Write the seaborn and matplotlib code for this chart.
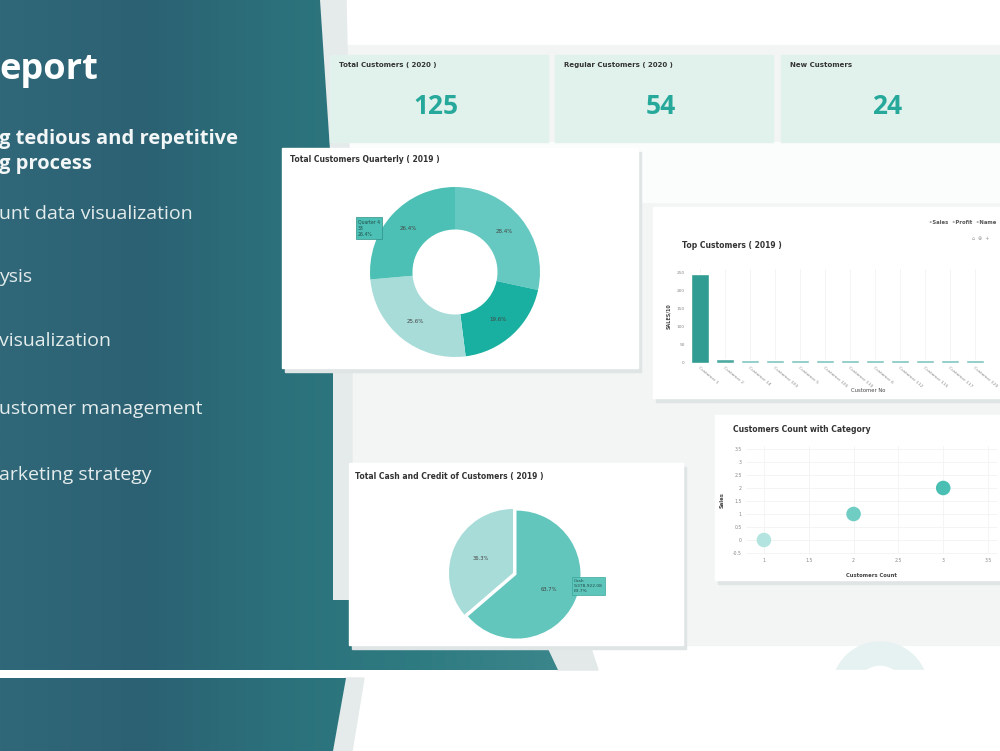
import numpy as np
import matplotlib
matplotlib.use("Agg")
import matplotlib.pyplot as plt
from matplotlib.patches import Rectangle, Polygon, Wedge
from matplotlib.colors import LinearSegmentedColormap
import seaborn as sns

W, H = 1000, 751

# slide text
slide_title = "eport"
slide_subtitle = ["g tedious and repetitive", "g process"]
slide_bullets = ["unt data visualization", "ysis", "visualization",
                 "ustomer management", "arketing strategy"]

# KPI cards
kpi_titles = ["Total Customers ( 2020 )", "Regular Customers ( 2020 )", "New Customers"]
kpi_values = [125, 54, 24]

# donut : customers per quarter
quarters = ["Quarter 1", "Quarter 2", "Quarter 3", "Quarter 4"]
quarter_counts = [35.5, 24.5, 32, 33]
quarter_colors = ["#66c9c1", "#19b0a1", "#a8dcd9", "#4dc0b5"]

# bars : top customers
customer_names = ["Customer 1", "Customer 2", "Customer 14", "Customer 103", "Customer 5",
                  "Customer 106", "Customer 110", "Customer 6", "Customer 112", "Customer 115",
                  "Customer 117", "Customer 120"]
customer_sales = [248, 10, 8, 8, 8, 8, 8, 8, 7.5, 7.5, 7.5, 7.5]
bar_colors = ["#1fae9f", "#3db8ad"] + ["#72d0c7"] * 10

# scatter : customers count with category
category_count = [1, 2, 3]
category_sales = [0, 1, 2]
category_colors = ["#b4e4df", "#6fcdc4", "#4bbfb3"]

# pie : cash and credit
payment_types = ["Cash", "Credit"]
payment_amount = [63.7, 36.3]
payment_colors = ["#62c6bd", "#a8dcd9"]


def rect(x0, y0, x1, y1):
    return [x0 / W, 1 - y1 / H, (x1 - x0) / W, (y1 - y0) / H]


sns.set_style("white")
plt.rcParams['font.family'] = ['DejaVu Sans']

fig = plt.figure(figsize=(10, 7.51), dpi=100, facecolor="white")
bg = fig.add_axes([0, 0, 1, 1])
bg.set_xlim(0, W)
bg.set_ylim(H, 0)
bg.axis("off")

# light panel behind the dashboard
bg.add_patch(Rectangle((330, 45), 670, 600, color="#f3f5f5", zorder=0))
bg.add_patch(Rectangle((330, 142), 670, 60, color="#fbfcfc", zorder=0))

# ring decoration (top half only)
bg.add_patch(Wedge((880, 690), 48, 180, 360, width=23, color="#e6f2f1", zorder=0.5))
bg.add_patch(Rectangle((365, 670), 635, 81, color="white", zorder=0.8))

# grey strips next to the teal shapes
bg.add_patch(Polygon([(320, 0), (346, 0), (352, 300), (352, 600), (333, 600)], color="#e5eaea", zorder=1))
bg.add_patch(Polygon([(525, 600), (575, 600), (598, 670), (558, 670)], color="#e3e8e8", zorder=1))
bg.add_patch(Polygon([(346, 678), (364, 678), (352, 751), (333, 751)], color="#e5eaea", zorder=1))

# teal gradient shapes
teal = LinearSegmentedColormap.from_list("teal", ["#306879", "#2c6173", "#2b717b", "#2f7b82", "#3a868b"])
grad = np.linspace(0, 1, 256).reshape(1, -1)
for pts in ([(0, 0), (320, 0), (330, 150), (333, 320), (333, 600), (525, 600), (558, 670), (0, 670)],
            [(0, 678), (346, 678), (333, 751), (0, 751)]):
    shape = Polygon(pts, closed=True, facecolor="none", edgecolor="none")
    bg.add_patch(shape)
    im = bg.imshow(grad, cmap=teal, extent=(0, 560, 751, 0), aspect="auto", zorder=2)
    im.set_clip_path(shape)
bg.set_xlim(0, W)
bg.set_ylim(H, 0)

# slide text
bg.text(-1, 70, slide_title, color="white", fontsize=26, fontweight="bold",
        family="Open Sans", va="center", ha="left", zorder=5)
for i, line in enumerate(slide_subtitle):
    bg.text(-1, 139 + i * 25, line, color="#f2f6f6", fontsize=14.5, fontweight="bold",
            family="Open Sans", va="center", ha="left", zorder=5)
for y, line in zip([214, 277, 341, 409, 475], slide_bullets):
    bg.text(-1, y, line, color="#e4ecec", fontsize=14, family="Open Sans",
            va="center", ha="left", zorder=5)

# cards
cards = [(282, 148, 638, 368), (653, 207, 1000, 398), (715, 415, 1000, 580), (349, 463, 683, 645)]
for x0, y0, x1, y1 in cards:
    bg.add_patch(Rectangle((x0 + 3, y0 + 4), x1 - x0, y1 - y0, color="#dfe4e4", zorder=6))
    bg.add_patch(Rectangle((x0, y0), x1 - x0, y1 - y0, color="white", zorder=7))

# KPI cards
kpi_boxes = [(330, 55, 548, 142), (555, 55, 773, 142), (781, 55, 1000, 142)]
for (x0, y0, x1, y1), title, val in zip(kpi_boxes, kpi_titles, kpi_values):
    bg.add_patch(Rectangle((x0, y0), x1 - x0, y1 - y0, color="#e1f2ed", zorder=7))
    bg.text(x0 + 9, y0 + 10, title, fontsize=5, fontweight="bold", color="#333333", va="center", zorder=8)
    bg.text((x0 + x1) / 2 - 3, 106, str(val), fontsize=19, fontweight="bold", family="Open Sans",
            color="#26a99b", ha="center", va="center", zorder=8)

# card titles
bg.text(290, 160, "Total Customers Quarterly ( 2019 )", fontsize=5.5, fontweight="bold", color="#333333", va="center", zorder=8)
bg.text(682, 246, "Top Customers ( 2019 )", fontsize=5.5, fontweight="bold", color="#333333", va="center", zorder=8)
bg.text(733, 430, "Customers Count with Category", fontsize=5.5, fontweight="bold", color="#333333", va="center", zorder=8)
bg.text(355, 476, "Total Cash and Credit of Customers ( 2019 )", fontsize=5.5, fontweight="bold", color="#333333", va="center", zorder=8)
bg.text(996, 222, "◦Sales  ◦Profit  ◦Name", fontsize=3.8, fontweight="bold", color="#555555",
        ha="right", va="center", zorder=8)
bg.text(972, 238, "⌂  ⊕  +", fontsize=3.5, color="#999999", va="center", zorder=8)

# donut chart
ax1 = fig.add_axes(rect(370, 187, 540, 357))
ax1.pie(quarter_counts, colors=quarter_colors, startangle=90, counterclock=False,
        wedgeprops=dict(width=0.5, linewidth=0), autopct="%1.1f%%", pctdistance=0.75,
        textprops=dict(fontsize=4, color="#444444"))
ax1.set_xlim(-1, 1)
ax1.set_ylim(-1, 1)
ax1.text(358, 228, "Quarter 4\n33\n26.4%", transform=bg.transData, clip_on=False,
         fontsize=3.3, color="#1e4d4a", va="center", ha="left", linespacing=1.3, zorder=9,
         bbox=dict(boxstyle="square,pad=0.4", facecolor="#4dc0b5", edgecolor="#2f8f86", linewidth=0.5))

# bar chart
ax2 = fig.add_axes(rect(687.5, 269.4, 1012.5, 363))
ax2.set_facecolor("none")
sns.barplot(x=customer_names, y=customer_sales, hue=customer_names, palette=bar_colors,
            legend=False, width=0.75, ax=ax2)
ax2.set_xlim(-0.5, len(customer_names) + 0.5)
ax2.set_ylim(0, 260)
ax2.set_yticks([0, 50, 100, 150, 200, 250])
ax2.grid(axis="x", color="#f2f2f2", linewidth=0.6)
ax2.set_axisbelow(True)
sns.despine(ax=ax2, left=True, bottom=True)
ax2.tick_params(axis="both", labelsize=3.1, colors="#888888", length=0, pad=2)
plt.setp(ax2.get_xticklabels(), rotation=-40, ha="left", rotation_mode="anchor")
ax2.set_ylabel("SALES/10", fontsize=3.5, fontweight="bold", color="#444444", labelpad=4)
ax2.set_xlabel("")
bg.text(868, 390, "Customer No", fontsize=3.8, color="#444444", ha="center", va="center", zorder=8)

# scatter chart
ax3 = fig.add_axes(rect(746, 446.4, 997, 554.3))
ax3.set_facecolor("none")
sns.scatterplot(x=category_count, y=category_sales, hue=category_count, palette=category_colors,
                s=110, linewidth=0, legend=False, ax=ax3)
ax3.set_xlim(0.8, 3.6)
ax3.set_ylim(-0.55, 3.6)
ax3.set_xticks([1, 1.5, 2, 2.5, 3, 3.5])
ax3.set_yticks([-0.5, 0, 0.5, 1, 1.5, 2, 2.5, 3, 3.5])
ax3.set_xticklabels([f"{v:g}" for v in ax3.get_xticks()])
ax3.set_yticklabels([f"{v:g}" for v in ax3.get_yticks()])
ax3.grid(color="#f3f3f3", linewidth=0.6)
sns.despine(ax=ax3, left=True, bottom=True)
ax3.tick_params(axis="both", labelsize=3.3, colors="#888888", length=0, pad=3)
ax3.set_ylabel("Sales", fontsize=3.8, fontweight="bold", color="#444444", labelpad=6)
ax3.set_xlabel("Customers Count", fontsize=3.8, fontweight="bold", color="#444444", labelpad=7)

# pie chart
ax4 = fig.add_axes(rect(449, 509, 577, 637))
ax4.pie(payment_amount, colors=payment_colors, startangle=90, counterclock=False,
        explode=[0.06, 0], autopct="%1.1f%%", pctdistance=0.55,
        wedgeprops=dict(linewidth=0), textprops=dict(fontsize=3.8, color="#444444"))
ax4.set_xlim(-1, 1)
ax4.set_ylim(-1, 1)
ax4.text(574, 586, "Cash\n9,378,922.08\n63.7%", transform=bg.transData, clip_on=False,
         fontsize=3.2, color="#1e4d4a", va="center", ha="left", linespacing=1.3, zorder=9,
         bbox=dict(boxstyle="square,pad=0.4", facecolor="#5ec5bb", edgecolor="#3aa79c", linewidth=0.5))

fig.savefig("out.png", dpi=100, facecolor="white")
